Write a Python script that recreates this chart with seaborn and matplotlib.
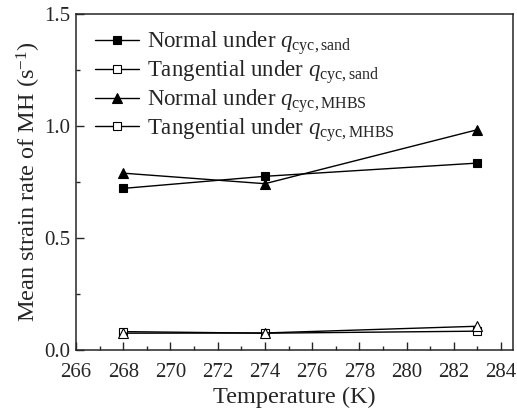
import matplotlib
matplotlib.use("Agg")
import matplotlib.pyplot as plt
import seaborn as sns
import pandas as pd
from matplotlib.lines import Line2D
from matplotlib.ticker import MultipleLocator

temperature = [268, 274, 283]
normal_sand = [0.722, 0.776, 0.835]
tangential_sand = [0.083, 0.076, 0.085]
normal_mhbs = [0.790, 0.743, 0.984]
tangential_mhbs = [0.076, 0.077, 0.107]

labels = [r"Normal under $q_{\mathrm{cyc,sand}}$",
          r"Tangential under $q_{\mathrm{cyc,sand}}$",
          r"Normal under $q_{\mathrm{cyc,MHBS}}$",
          r"Tangential under $q_{\mathrm{cyc,MHBS}}$"]
values = [normal_sand, tangential_sand, normal_mhbs, tangential_mhbs]

sns.set_style("ticks")
plt.rcParams['font.family'] = ['Liberation Serif', 'DejaVu Serif']
plt.rcParams['mathtext.fontset'] = 'custom'
plt.rcParams['mathtext.rm'] = 'Liberation Serif'
plt.rcParams['mathtext.it'] = 'Liberation Serif:italic'

fig = plt.figure(figsize=(5.17, 4.13), dpi=100)
ax = fig.add_axes([0.147, 0.152, 0.845, 0.814])

styles = [
    dict(marker='s', mfc='black', ms=6),
    dict(marker='s', mfc='white', ms=6),
    dict(marker='^', mfc='black', ms=7),
    dict(marker='^', mfc='white', ms=7),
]
legend_styles = [
    dict(marker='s', mfc='black', ms=6),
    dict(marker='s', mfc='white', ms=6),
    dict(marker='^', mfc='black', ms=7),
    dict(marker='s', mfc='white', ms=6),
]

for lab, vals, st in zip(labels, values, styles):
    df = pd.DataFrame({"T": temperature, "v": vals})
    sns.lineplot(data=df, x="T", y="v", ax=ax, color='black', lw=1.0,
                 marker=st['marker'], markerfacecolor=st['mfc'],
                 markeredgecolor='black', markersize=st['ms'],
                 markeredgewidth=0.8)

handles = [Line2D([0], [0], color='black', lw=1.0, marker=s['marker'],
                  markerfacecolor=s['mfc'], markeredgecolor='black',
                  markersize=s['ms'], markeredgewidth=0.8) for s in legend_styles]
ax.legend(handles, labels, loc='upper left', frameon=False, fontsize=16.5,
          bbox_to_anchor=(0.043, 0.955), handlelength=1.95, handletextpad=0.35,
          labelspacing=0.05, borderaxespad=0.0, borderpad=0.0)

ax.set_xlim(266, 284.5)
ax.set_ylim(0, 1.5)
ax.xaxis.set_major_locator(MultipleLocator(2))
ax.xaxis.set_minor_locator(MultipleLocator(1))
ax.yaxis.set_major_locator(MultipleLocator(0.5))
ax.yaxis.set_minor_locator(MultipleLocator(0.25))
ax.tick_params(which='both', direction='in', top=False, right=False,
               labelsize=15, width=1.0)
ax.tick_params(which='major', length=6)
ax.tick_params(which='minor', length=3)
ax.tick_params(axis='x', which='major', pad=9)
ax.tick_params(axis='y', which='major', pad=4)
ax.set_xticklabels([f"{int(t)}" for t in ax.get_xticks()])
ax.set_yticklabels([f"{t:.1f}" for t in ax.get_yticks()])
for s in ax.spines.values():
    s.set_visible(True)
    s.set_linewidth(1.1)
ax.set_xlabel("Temperature (K)", fontsize=17.5, labelpad=4)
ax.set_ylabel(r"Mean strain rate of MH (s$^{-1}$)", fontsize=17.5, labelpad=1)

fig.savefig("out.png", dpi=100)
